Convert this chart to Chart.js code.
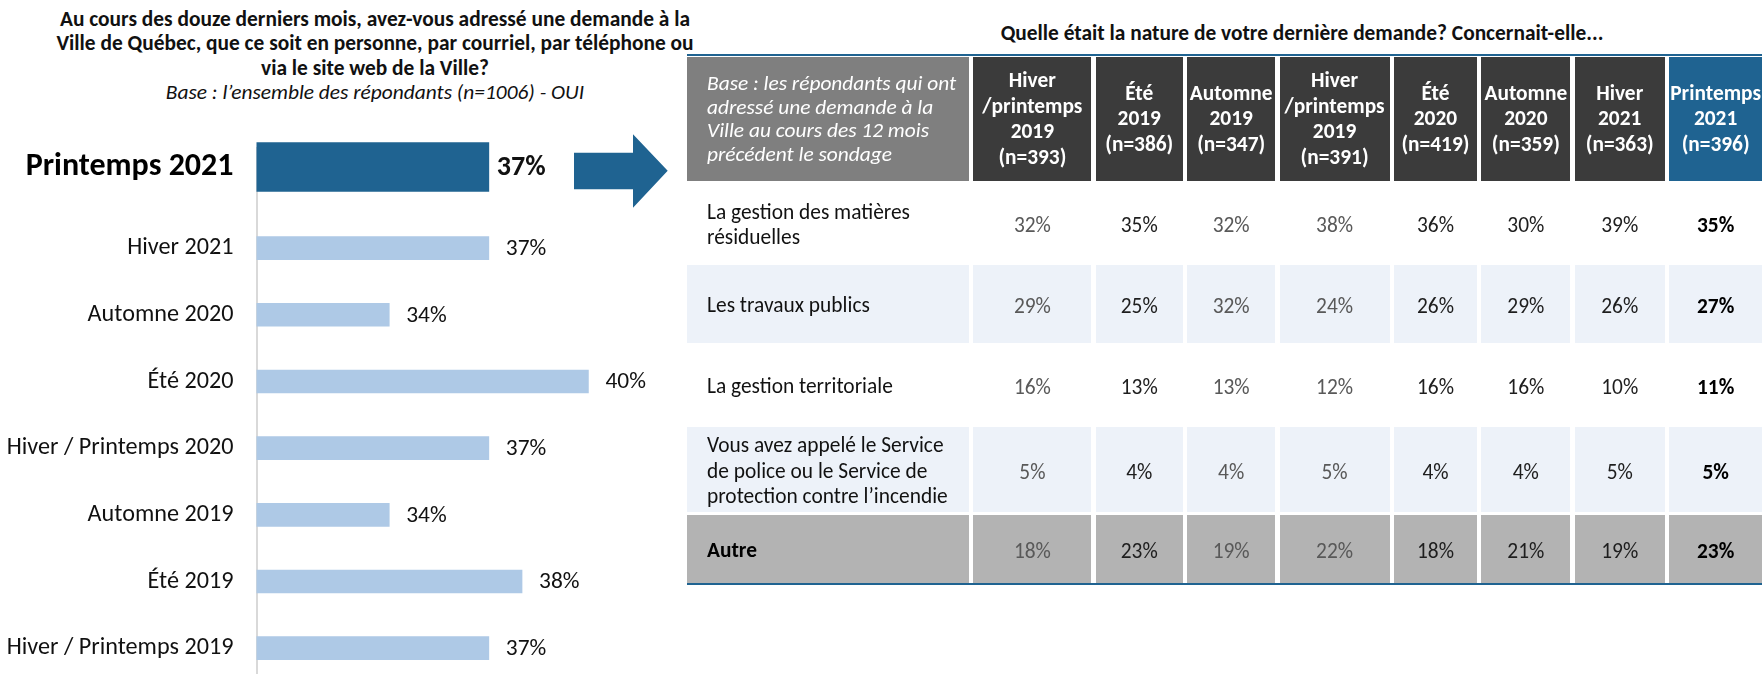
<!DOCTYPE html>
<html lang="fr">
<head>
<meta charset="utf-8">
<script src="https://cdn.jsdelivr.net/npm/chart.js@4.4.1/dist/chart.umd.min.js"></script>
<style>
  html, body { margin: 0; padding: 0; width: 1762px; height: 674px; overflow: hidden; background: #fff; }
  body { position: relative; font-family: Carlito, Lato, sans-serif; color: #111; }
  .abs { position: absolute; }
  #titreGauche { left: 0; top: 7px; width: 750px; text-align: center; font-size: 21.4px; line-height: 24.3px; font-weight: 700; white-space: nowrap; }
  #titreGauche .base { font-weight: 400; font-style: italic; }
  #titreDroite { left: 900px; top: 21px; width: 804px; text-align: center; font-size: 21.4px; line-height: 24px; font-weight: 700; white-space: nowrap; }
  #fleche { left: 574px; top: 134px; }
  /* les canevas débordent pour compenser la marge des étiquettes de l'axe */
  #zoneHaut { left: 0; top: 97.7px; width: 688px; height: 138px; }
  #zoneBas { left: 0; top: 112.5px; width: 688px; height: 603.6px; }

  #tableau {
    left: 687px; top: 54px;
    display: grid;
    grid-template-columns: 282px 118px 87px 88px 110px 83px 89px 90px 93px;
    grid-template-rows: 124px 78px 78px 78px 85px 68px;
    column-gap: 4.4px; row-gap: 3px;
    border-top: 2px solid #1f6391; border-bottom: 2.5px solid #1f6391;
    padding-top: 1px;
    font-size: 21.4px;
  }
  .cell { display: flex; align-items: center; white-space: pre-line; }
  .entete { justify-content: center; text-align: center; color: #fff; font-weight: 700; line-height: 25.5px; background: #3b3b3b; }
  .entete.base { justify-content: flex-start; text-align: left; font-weight: 400; font-style: italic; background: #7f7f7f; padding: 0 2px 0 20px; line-height: 23.5px; }
  .entete.actuel { background: #1f6391; }
  .libelle { padding-left: 20px; line-height: 25.5px; padding-top: 4px; }
  .valeur { justify-content: center; padding-top: 4px; }
  .pale { background: #edf2f9; }
  .gris { background: #b3b3b3; }
  .attenue { color: #595959; }
  .fonce { color: #1e1e1e; }
  .gras { font-weight: 700; color: #000; }
</style>
</head>
<body>

<div id="titreGauche" class="abs">Au cours des douze derniers mois, avez-vous adressé une demande à la<br>Ville de Québec, que ce soit en personne, par courriel, par téléphone ou<br>via le site web de la Ville?<br><span class="base">Base : l’ensemble des répondants (n=1006) - OUI</span></div>

<div id="titreDroite" class="abs">Quelle était la nature de votre dernière demande? Concernait-elle...</div>

<svg id="fleche" class="abs" width="95" height="75" viewBox="0 0 95 75">
  <polygon points="0,18.7 59,18.7 59,0.3 93.7,36.7 59,73.7 59,55.3 0,55.3" fill="#1f6391"/>
</svg>

<div id="zoneBas" class="abs"><canvas id="graphiqueBas"></canvas></div>
<div id="zoneHaut" class="abs"><canvas id="graphiqueHaut"></canvas></div>

<div id="tableau" class="abs"></div>

<script>
// Question 1 : demande adressée à la Ville (OUI), par vague de sondage
const periodes = ['Printemps 2021', 'Hiver 2021', 'Automne 2020', 'Été 2020', 'Hiver / Printemps 2020', 'Automne 2019', 'Été 2019', 'Hiver / Printemps 2019'];
const demandeOui = [37, 37, 34, 40, 37, 34, 38, 37];

// Question 2 : nature de la dernière demande
const enteteBase = 'Base : les répondants qui ont\nadressé une demande à la\nVille au cours des 12 mois\nprécédent le sondage';
const vagues = ['Hiver\n/printemps\n2019\n(n=393)', 'Été\n2019\n(n=386)', 'Automne\n2019\n(n=347)', 'Hiver\n/printemps\n2019\n(n=391)', 'Été\n2020\n(n=419)', 'Automne\n2020\n(n=359)', 'Hiver\n2021\n(n=363)', 'Printemps\n2021\n(n=396)'];
const natures = ['La gestion des matières\nrésiduelles', 'Les travaux publics', 'La gestion territoriale', 'Vous avez appelé le Service\nde police ou le Service de\nprotection contre l’incendie', 'Autre'];
const matieresResiduelles = [32, 35, 32, 38, 36, 30, 39, 35];
const travauxPublics = [29, 25, 32, 24, 26, 29, 26, 27];
const gestionTerritoriale = [16, 13, 13, 12, 16, 16, 10, 11];
const policeIncendie = [5, 4, 4, 5, 4, 4, 5, 5];
const autre = [18, 23, 19, 22, 18, 21, 19, 23];

const police = 'Carlito, Lato, sans-serif';
const bleuFonce = '#1f6391';
const bleuPale = '#aec9e6';

// étiquettes de valeur au bout des barres
const etiquettesValeurs = {
    id: 'etiquettesValeurs',
    afterDatasetsDraw(chart, args, opts) {
        const ctx = chart.ctx;
        const donnees = chart.data.datasets[0].data;
        ctx.save();
        ctx.font = opts.font;
        ctx.fillStyle = '#111';
        ctx.textBaseline = 'middle';
        chart.getDatasetMeta(0).data.forEach((barre, i) => {
            if (donnees[i] == null) return;
            ctx.fillText(donnees[i] + '%', barre.x + opts.decalage, barre.y + 1);
        });
        ctx.restore();
    }
};

function axeValeurs() {
    return { type: 'linear', min: 30, max: 43, display: false };
}

// barres des vagues précédentes (la première place reste vide pour la vague actuelle)
new Chart(document.getElementById('graphiqueBas'), {
    type: 'bar',
    data: {
        labels: periodes,
        datasets: [{
            data: demandeOui.map((v, i) => i === 0 ? null : v),
            backgroundColor: bleuPale,
            barThickness: 23
        }]
    },
    options: {
        indexAxis: 'y',
        responsive: true,
        maintainAspectRatio: false,
        animation: false,
        layout: { padding: 0 },
        plugins: {
            legend: { display: false },
            tooltip: { enabled: false },
            etiquettesValeurs: { font: '400 23.4px ' + police, decalage: 17 }
        },
        scales: {
            x: axeValeurs(),
            y: {
                grid: { display: false, drawTicks: false },
                border: { display: true, color: '#d9d9d9', width: 2 },
                ticks: {
                    padding: 23,
                    color: '#111',
                    font: { family: police, size: 24.2, lineHeight: 1 },
                    callback: (val, i) => i === 0 ? '' : periodes[i]
                },
                afterFit: (axe) => { axe.width = 256.5; }
            }
        }
    },
    plugins: [etiquettesValeurs]
});

// barre de la vague actuelle
new Chart(document.getElementById('graphiqueHaut'), {
    type: 'bar',
    data: {
        labels: periodes.slice(0, 1),
        datasets: [{
            data: demandeOui.slice(0, 1),
            backgroundColor: bleuFonce,
            barThickness: 49
        }]
    },
    options: {
        indexAxis: 'y',
        responsive: true,
        maintainAspectRatio: false,
        animation: false,
        layout: { padding: 0 },
        plugins: {
            legend: { display: false },
            tooltip: { enabled: false },
            etiquettesValeurs: { font: '700 28px ' + police, decalage: 8 }
        },
        scales: {
            x: axeValeurs(),
            y: {
                grid: { display: false, drawTicks: false },
                border: { display: false },
                ticks: {
                    padding: 23,
                    color: '#000',
                    font: { family: police, size: 32, weight: '700', lineHeight: 1 }
                },
                afterFit: (axe) => { axe.width = 256.5; }
            }
        }
    },
    plugins: [etiquettesValeurs]
});

// tableau de la nature des demandes
const lignes = [matieresResiduelles, travauxPublics, gestionTerritoriale, policeIncendie, autre];
const fonds = ['', 'pale', '', 'pale', 'gris'];
const tons = ['attenue', 'fonce', 'attenue', 'attenue', 'fonce', 'fonce', 'fonce', 'gras'];
const tableau = document.getElementById('tableau');

function ajouterCellule(texte, classes) {
    const div = document.createElement('div');
    div.className = 'cell ' + classes;
    div.textContent = texte;
    tableau.appendChild(div);
}

ajouterCellule(enteteBase, 'entete base');
vagues.forEach((v, j) => ajouterCellule(v, 'entete' + (j === vagues.length - 1 ? ' actuel' : '')));
lignes.forEach((valeurs, i) => {
    ajouterCellule(natures[i], 'libelle ' + fonds[i] + (i === lignes.length - 1 ? ' gras' : ''));
    valeurs.forEach((v, j) => ajouterCellule(v + '%', 'valeur ' + fonds[i] + ' ' + tons[j]));
});
</script>
</body>
</html>
